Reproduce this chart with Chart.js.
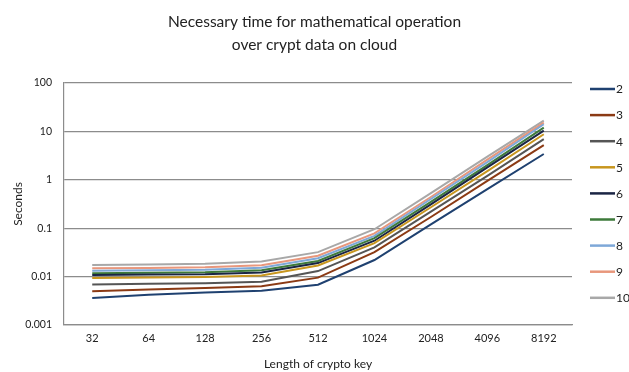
<!DOCTYPE html>
<html>
<head>
<meta charset="utf-8">
<script src="https://cdn.jsdelivr.net/npm/chart.js@4/dist/chart.umd.min.js"></script>
<style>
  html, body { margin: 0; padding: 0; background: #fff; }
  #wrap { width: 629px; height: 372px; }
</style>
</head>
<body>
<div id="wrap"><canvas id="chart" width="629" height="372"></canvas></div>
<script>
// key lengths on the x axis
const keyLengths = ['32', '64', '128', '256', '512', '1024', '2048', '4096', '8192'];
const yTicks = [0.001, 0.01, 0.1, 1, 10, 100];

// seconds per series
const s2  = [0.0036, 0.0042, 0.0047, 0.0051, 0.0068, 0.022, 0.12, 0.64, 3.4];
const s3  = [0.0050, 0.0054, 0.0058, 0.0063, 0.0095, 0.032, 0.17, 0.95, 5.2];
const s4  = [0.0069, 0.0071, 0.0073, 0.0078, 0.013, 0.040, 0.22, 1.2, 6.9];
const s5  = [0.0094, 0.0096, 0.0098, 0.0105, 0.017, 0.049, 0.27, 1.5, 8.7];
const s6  = [0.0108, 0.0110, 0.0112, 0.0122, 0.019, 0.055, 0.31, 1.8, 10.3];
const s7  = [0.0117, 0.0120, 0.0123, 0.0135, 0.021, 0.062, 0.35, 2.0, 11.9];
const s8  = [0.0132, 0.0135, 0.0138, 0.0152, 0.024, 0.069, 0.40, 2.3, 14.0];
const s9  = [0.0148, 0.0151, 0.0155, 0.0172, 0.027, 0.078, 0.44, 2.6, 15.1];
const s10 = [0.0174, 0.0178, 0.0183, 0.0205, 0.032, 0.095, 0.53, 3.0, 16.6];

const seriesNames = ['2', '3', '4', '5', '6', '7', '8', '9', '10'];
const seriesData = [s2, s3, s4, s5, s6, s7, s8, s9, s10];
const seriesColors = ['#1f4170', '#8b3a14', '#555555', '#c8961e', '#1a2544',
                      '#3d7a3a', '#7ea8d8', '#e8977c', '#a8a8a8'];

const FONT = 'Lato, "Open Sans", sans-serif';

// legend drawn by hand on the right side
const sideLegend = {
  id: 'sideLegend',
  afterDraw(chart) {
    const ctx = chart.ctx;
    ctx.save();
    ctx.font = '12px ' + FONT;
    ctx.textBaseline = 'middle';
    ctx.textAlign = 'left';
    chart.data.datasets.forEach((ds, i) => {
      const y = 89 + i * 26.1;
      ctx.strokeStyle = ds.borderColor;
      ctx.lineWidth = 2.5;
      ctx.beginPath();
      ctx.moveTo(590, y);
      ctx.lineTo(615, y);
      ctx.stroke();
      ctx.fillStyle = '#222';
      ctx.fillText(ds.label, 616, y + 0.5);
    });
    ctx.restore();
  }
};

new Chart(document.getElementById('chart'), {
  type: 'line',
  data: {
    labels: keyLengths,
    datasets: seriesNames.map((name, i) => ({
      label: name,
      data: seriesData[i],
      borderColor: seriesColors[i],
      backgroundColor: seriesColors[i],
      borderWidth: 2,
      pointRadius: 0,
      tension: 0,
      order: i
    }))
  },
  options: {
    responsive: false,
    animation: false,
    layout: { padding: 0 },
    plugins: {
      legend: { display: false },
      tooltip: { enabled: false },
      title: {
        display: true,
        text: ['Necessary time for mathematical operation', 'over crypt data on cloud'],
        color: '#222',
        font: { family: FONT, size: 15.5, weight: 'normal', lineHeight: 1.48 },
        padding: { top: 10.5, bottom: 26.5 }
      }
    },
    scales: {
      x: {
        type: 'category',
        offset: true,
        grid: { display: false, drawTicks: false },
        border: { display: true, color: '#8c8c8c', width: 1.2 },
        ticks: { color: '#222', font: { family: FONT, size: 11 }, padding: 7, maxRotation: 0 },
        title: {
          display: true,
          text: 'Length of crypto key',
          color: '#222',
          font: { family: FONT, size: 12 },
          padding: { top: 0, bottom: 1 }
        },
        afterFit: (s) => { s.height = 47; }
      },
      y: {
        type: 'logarithmic',
        min: 0.001,
        max: 100,
        afterBuildTicks: (s) => { s.ticks = yTicks.map(v => ({ value: v })); },
        grid: { color: '#8c8c8c', lineWidth: 1.2, drawTicks: false },
        border: { display: true, color: '#8c8c8c', width: 1.2 },
        ticks: {
          color: '#222',
          font: { family: FONT, size: 10.5 },
          padding: 12,
          callback: (v) => String(v)
        },
        title: {
          display: true,
          text: 'Seconds',
          color: '#222',
          font: { family: FONT, size: 12 },
          padding: { top: 11, bottom: 0 }
        },
        afterFit: (s) => { s.width = 64; }
      },
      // empty axis on the right that only reserves room for the legend
      yLegend: {
        type: 'linear',
        position: 'right',
        display: true,
        grid: { display: false, drawTicks: false },
        border: { display: false },
        ticks: { display: false },
        afterFit: (s) => { s.width = 57; }
      }
    }
  },
  plugins: [sideLegend]
});
</script>
</body>
</html>
